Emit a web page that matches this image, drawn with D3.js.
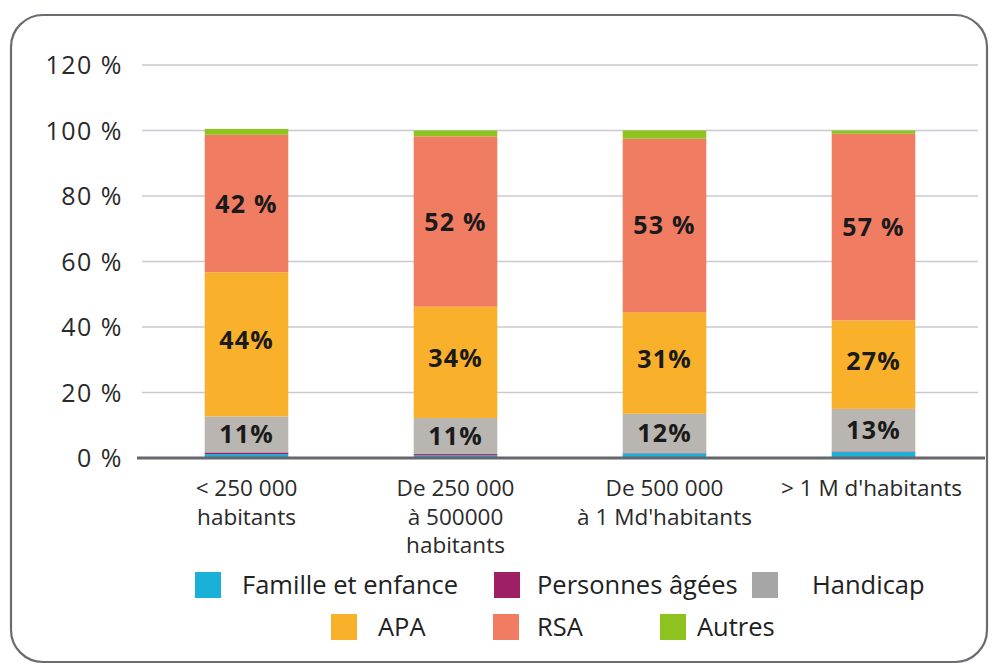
<!DOCTYPE html>
<html><head><meta charset="utf-8">
<script src="https://cdn.jsdelivr.net/npm/d3@7"></script>
<style>body{margin:0;background:#fff;}svg{display:block;font-family:"Open Sans",sans-serif;}</style>
</head><body>
<svg id="c" width="992" height="667"></svg>
<script>
const categories = [["< 250 000","habitants"],["De 250 000","à 500000","habitants"],["De 500 000","à 1 Md'habitants"],["> 1 M d'habitants"]];
const seriesNames = ["Famille et enfance","Personnes âgées","Handicap","APA","RSA","Autres"];
const famille = [1.2, 0.8, 1.4, 1.8];
const personnes = [0.5, 0.4, 0.1, 0.2];
const handicap = [11, 11, 12, 13];
const apa = [44, 34, 31, 27];
const rsa = [42, 52, 53, 57];
const autres = [1.8, 1.8, 2.5, 1.0];
const segLabels = [null, null, ["11%","11%","12%","13%"], ["44%","34%","31%","27%"], ["42 %","52 %","53 %","57 %"], null];
const yTicks = [0,20,40,60,80,100,120];
const colors = ["#1ab0d8","#9e1f63","#b9b5b1","#f9b02a","#f07c62","#8dc21f"];
const legendColors = ["#1ab0d8","#9e1f63","#a6a6a6","#f9b02a","#f07c62","#8dc21f"];

const svg = d3.select("#c");
svg.append("rect").attr("x",11).attr("y",15).attr("width",976).attr("height",647).attr("rx",32)
  .attr("fill","#fff").attr("stroke","#6b6b72").attr("stroke-width",2.2);

const x = d3.scaleBand().domain(d3.range(4)).range([142,978]).paddingInner(0.6).paddingOuter(0.3);
const y = d3.scaleLinear().domain([0,120]).range([458,65]);

// grid
svg.append("g").selectAll("line").data(yTicks.filter(t=>t>0)).join("line")
  .attr("x1",142).attr("x2",978).attr("y1",d=>y(d)).attr("y2",d=>y(d))
  .attr("stroke","#c9c9d1").attr("stroke-width",1.5);

// y axis labels
const yAxis = d3.axisLeft(y).tickValues(yTicks).tickFormat(d=>d+" %").tickSize(0).tickPadding(0);
const ga = svg.append("g").attr("transform","translate(123,0)").call(yAxis);
ga.select(".domain").remove();
ga.selectAll("text").attr("font-size",25).attr("letter-spacing",1.5).attr("fill","#2a2a2a")
  .attr("font-family","Open Sans, sans-serif").attr("dy","0.35em");

const data = [famille,personnes,handicap,apa,rsa,autres];
const table = d3.range(4).map(j=>{const o={idx:j}; seriesNames.forEach((n,i)=>o[n]=data[i][j]); return o;});
const stack = d3.stack().keys(seriesNames)(table);

const g = svg.append("g");
stack.forEach((s,i)=>{
  g.append("g").selectAll("rect").data(s).join("rect")
    .attr("x",(d,j)=>x(j)).attr("width",x.bandwidth())
    .attr("y",d=>y(d[1])).attr("height",d=>y(d[0])-y(d[1]))
    .attr("fill",colors[i]);
  if(segLabels[i]){
    g.append("g").selectAll("text").data(s).join("text")
      .attr("x",(d,j)=>x(j)+x.bandwidth()/2)
      .attr("y",d=>(y(d[0])+y(d[1]))/2 + (i===3?-4:0))
      .attr("dy","0.36em").attr("text-anchor","middle")
      .attr("font-size",25).attr("letter-spacing",1.2).attr("font-weight",700).attr("fill","#1a1a1a")
      .text((d,j)=>segLabels[i][j]);
  }
});

// x axis line
svg.append("line").attr("x1",137).attr("x2",985).attr("y1",y(0)).attr("y2",y(0))
  .attr("stroke","#66666e").attr("stroke-width",3);

// category labels
const cg = svg.append("g");
categories.forEach((lines,j)=>{
  const t = cg.append("text").attr("text-anchor","middle").attr("font-size",22.5).attr("fill","#2a2a2a");
  lines.forEach((l,k)=>t.append("tspan").attr("x",x(j)+x.bandwidth()/2 + (j===3?-2:0)).attr("y",496+k*28.5).text(l));
});

// legend
const legendPos = [
  {sx:195, sy:572, tx:242},
  {sx:494, sy:572, tx:537},
  {sx:752, sy:572, tx:812},
  {sx:331, sy:614, tx:378},
  {sx:493, sy:614, tx:537},
  {sx:660, sy:614, tx:697}
];
const lg = svg.append("g");
seriesNames.forEach((n,i)=>{
  const p = legendPos[i];
  lg.append("rect").attr("x",p.sx).attr("y",p.sy).attr("width",26).attr("height",26).attr("fill",legendColors[i]);
  lg.append("text").attr("x",p.tx).attr("y",p.sy+13).attr("dy","0.35em").attr("font-size",25.5).attr("fill","#222").text(n);
});
</script>
</body></html>
